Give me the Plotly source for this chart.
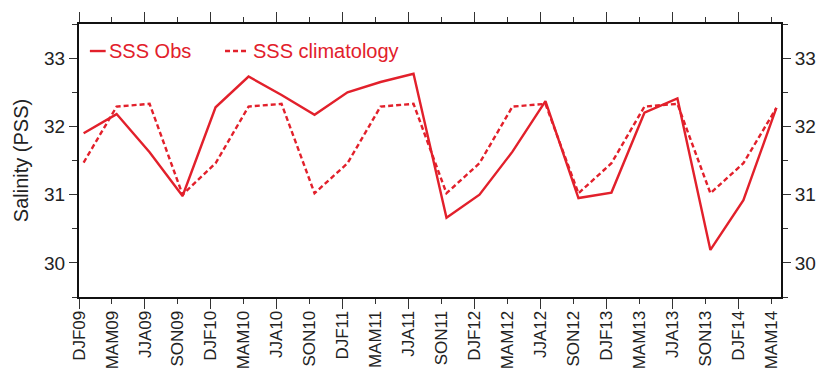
import numpy as np
import plotly.graph_objects as go

# Seasonal labels (DJF, MAM, JJA, SON) from winter 2009 to spring 2014
seasons = ["DJF09", "MAM09", "JJA09", "SON09",
           "DJF10", "MAM10", "JJA10", "SON10",
           "DJF11", "MAM11", "JJA11", "SON11",
           "DJF12", "MAM12", "JJA12", "SON12",
           "DJF13", "MAM13", "JJA13", "SON13",
           "DJF14", "MAM14"]

# Observed sea surface salinity (PSS)
sss_obs = [31.90, 32.18, 31.62, 30.98,
           32.28, 32.73, 32.46, 32.17,
           32.50, 32.65, 32.77, 30.66,
           31.00, 31.63, 32.37, 30.95,
           31.03, 32.20, 32.41, 30.19,
           30.92, 32.27]

# Seasonal climatology of sea surface salinity (PSS)
sss_clim = [31.47, 32.29, 32.33, 31.00,
            31.46, 32.29, 32.33, 31.02,
            31.46, 32.29, 32.33, 31.02,
            31.46, 32.29, 32.33, 31.02,
            31.46, 32.29, 32.33, 31.02,
            31.46, 32.27]

y_ticks = [30, 31, 32, 33]

RED = "#e2202b"
INK = "#222222"
FONT = "Liberation Sans, Arial, sans-serif"

idx = np.arange(len(seasons))
# values are centred slightly into each season
x_pos = idx + 0.14
x_range = [0, len(seasons) - 1 + 0.28]
y_range = [29.5, 33.5]

fig = go.Figure()
fig.add_trace(go.Scatter(x=x_pos, y=sss_obs, mode="lines", name="SSS Obs",
                         line=dict(color=RED, width=2.4), showlegend=False,
                         xaxis="x", yaxis="y"))
fig.add_trace(go.Scatter(x=x_pos, y=sss_clim, mode="lines", name="SSS climatology",
                         line=dict(color=RED, width=2.4, dash="5px,3px"),
                         showlegend=False, xaxis="x2", yaxis="y2"))

axis_common = dict(showline=True, linecolor="#111111", linewidth=2,
                   showgrid=False, zeroline=False, ticks="outside",
                   tickcolor="#333333", tickwidth=1.2)

fig.update_layout(
    width=828, height=381,
    margin=dict(l=79, r=38, t=14, b=83),
    paper_bgcolor="white", plot_bgcolor="white",
    font=dict(family=FONT, color=INK),
    xaxis=dict(**axis_common, range=x_range, tickmode="array",
               tickvals=idx, ticktext=seasons, ticklen=5, tickangle=-90,
               tickfont=dict(size=17, color=INK), mirror="allticks"),
    xaxis2=dict(**axis_common, range=x_range, overlaying="x", matches="x",
                tickmode="array", tickvals=idx[::2], ticklen=10,
                showticklabels=False, mirror="allticks", side="bottom"),
    yaxis=dict(**axis_common, range=y_range, tickmode="array",
               tickvals=y_ticks, ticklen=8, tickfont=dict(size=19, color=INK),
               minor=dict(dtick=0.5, ticklen=5, ticks="outside",
                          tickcolor="#333333"),
               title=dict(text="Salinity (PSS)",
                          font=dict(size=20, color=INK), standoff=10)),
    yaxis2=dict(**axis_common, range=y_range, overlaying="y", matches="y",
                side="right", tickmode="array", tickvals=y_ticks, ticklen=8,
                tickfont=dict(size=19, color=INK),
                minor=dict(dtick=0.5, ticklen=5, ticks="outside",
                           tickcolor="#333333")),
)

# In-plot legend: sample strokes and labels
fig.add_shape(type="line", xref="paper", yref="paper",
              x0=0.0155, x1=0.038, y0=0.901, y1=0.901,
              line=dict(color=RED, width=2.4))
fig.add_shape(type="line", xref="paper", yref="paper",
              x0=0.208, x1=0.240, y0=0.901, y1=0.901,
              line=dict(color=RED, width=2.4, dash="5px,3px"))
fig.add_annotation(text="SSS Obs", xref="paper", yref="paper",
                   x=0.040, y=0.901, xanchor="left", yanchor="middle",
                   showarrow=False, font=dict(size=20, color=RED, family=FONT))
fig.add_annotation(text="SSS climatology", xref="paper", yref="paper",
                   x=0.245, y=0.901, xanchor="left", yanchor="middle",
                   showarrow=False, font=dict(size=20, color=RED, family=FONT))

fig.write_html("out.html")
